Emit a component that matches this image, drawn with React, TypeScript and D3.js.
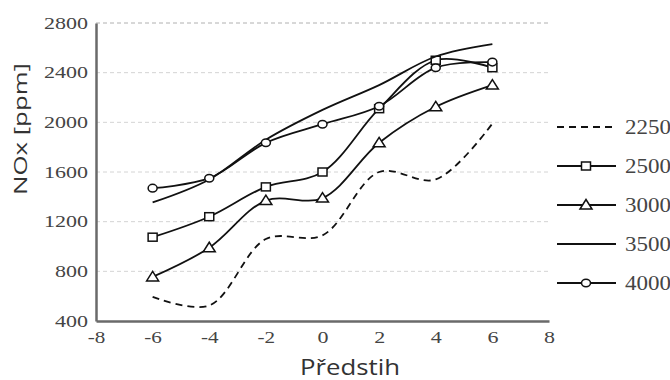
import React from "react"
import * as d3 from "d3"

// x positions (Předstih) shared by all series
const advance = [-6, -4, -2, 0, 2, 4, 6]

// NOx [ppm] per engine speed
const nox2250 = [595, 525, 1060, 1090, 1600, 1540, 1990]
const nox2500 = [1075, 1240, 1480, 1600, 2110, 2500, 2440]
const nox3000 = [755, 990, 1370, 1390, 1835, 2125, 2300]
const nox3500 = [1355, 1540, 1860, 2100, 2300, 2530, 2630]
const nox4000 = [1470, 1550, 1835, 1985, 2130, 2440, 2485]

const xTicks = [-8, -6, -4, -2, 0, 2, 4, 6, 8]
const yTicks = [400, 800, 1200, 1600, 2000, 2400, 2800]

const series = [
  { name: "2250", values: nox2250, dash: "7,5", marker: "none" },
  { name: "2500", values: nox2500, dash: null, marker: "square" },
  { name: "3000", values: nox3000, dash: null, marker: "triangle" },
  { name: "3500", values: nox3500, dash: null, marker: "none" },
  { name: "4000", values: nox4000, dash: null, marker: "circle" },
]

const width = 670
const height = 380
const margin = { top: 23, right: 121, bottom: 59, left: 96 }

const serif = "Liberation Serif, Times New Roman, serif"
const sans = "Open Sans, Noto Sans, sans-serif"

// the reference text is drawn a bit wider than the font's natural width
const labelLength = (s: string, digit: number) =>
  s.split("").reduce((w, c) => w + (c === "-" ? digit * 0.6 : digit), 0)

export default function App() {
  const ref = React.useRef<SVGSVGElement>(null)

  React.useEffect(() => {
    const svg = d3.select(ref.current)
    svg.selectAll("*").remove()

    const x = d3.scaleLinear().domain([-8, 8]).range([margin.left, width - margin.right])
    const y = d3.scaleLinear().domain([400, 2800]).range([height - margin.bottom, margin.top])

    // gridlines
    svg.append("g")
      .selectAll("line")
      .data(yTicks.filter((d) => d > 400))
      .join("line")
      .attr("x1", x(-8))
      .attr("x2", x(8))
      .attr("y1", (d) => y(d))
      .attr("y2", (d) => y(d))
      .attr("stroke", (d) => (d === 2800 ? "#b0b0b0" : "#d4d4d4"))
      .attr("stroke-width", 1)
      .attr("stroke-dasharray", "4,3")

    // axes
    const yAxis = svg.append("g")
      .attr("transform", `translate(${margin.left},0)`)
      .call(d3.axisLeft(y).tickValues(yTicks).tickSize(0).tickPadding(8).tickFormat((d) => String(d)))
    yAxis.attr("font-family", null).attr("font-size", null)
    yAxis.select(".domain").attr("stroke", "#6a6a6a").attr("stroke-width", 2.5)
    yAxis.selectAll("text")
      .style("font-family", serif).style("font-size", "16px").attr("fill", "#444")
      .attr("textLength", (d: any) => labelLength(String(d), 11))
      .attr("lengthAdjust", "spacingAndGlyphs")

    const xAxis = svg.append("g")
      .attr("transform", `translate(0,${height - margin.bottom})`)
      .call(d3.axisBottom(x).tickValues(xTicks).tickSize(0).tickPadding(11).tickFormat((d) => String(d)))
    xAxis.attr("font-family", null).attr("font-size", null)
    xAxis.select(".domain").attr("stroke", "#6a6a6a").attr("stroke-width", 2.5)
    xAxis.selectAll("text")
      .style("font-family", serif).style("font-size", "16px").attr("fill", "#444")
      .attr("textLength", (d: any) => labelLength(String(d), 11))
      .attr("lengthAdjust", "spacingAndGlyphs")

    const line = d3.line<number>()
      .curve(d3.curveCatmullRom.alpha(0.5))
      .x((_, i) => x(advance[i]))
      .y((d) => y(d))

    const drawMarker = (g: any, kind: string, cx: number, cy: number) => {
      if (kind === "square") {
        g.append("rect").attr("x", cx - 4.5).attr("y", cy - 4).attr("width", 9).attr("height", 8)
          .attr("fill", "white").attr("stroke", "#111").attr("stroke-width", 1.5)
      } else if (kind === "triangle") {
        g.append("path").attr("d", `M${cx},${cy - 5.5}L${cx + 6},${cy + 4}L${cx - 6},${cy + 4}Z`)
          .attr("fill", "white").attr("stroke", "#111").attr("stroke-width", 1.5)
      } else if (kind === "circle") {
        g.append("ellipse").attr("cx", cx).attr("cy", cy).attr("rx", 4.5).attr("ry", 3.8)
          .attr("fill", "white").attr("stroke", "#111").attr("stroke-width", 1.5)
      }
    }

    series.forEach((s) => {
      svg.append("path")
        .datum(s.values)
        .attr("fill", "none")
        .attr("stroke", "#111")
        .attr("stroke-width", 1.8)
        .attr("stroke-dasharray", s.dash)
        .attr("d", line)
      const g = svg.append("g")
      s.values.forEach((v, i) => drawMarker(g, s.marker, x(advance[i]), y(v)))
    })

    // legend
    const legend = svg.append("g")
    series.forEach((s, i) => {
      const ly = 127 + i * 39
      legend.append("line")
        .attr("x1", 557).attr("x2", 616).attr("y1", ly).attr("y2", ly)
        .attr("stroke", "#111").attr("stroke-width", 1.8)
        .attr("stroke-dasharray", s.dash)
      drawMarker(legend, s.marker, 586, ly)
      legend.append("text")
        .attr("x", 625).attr("y", ly + 7)
        .style("font-family", serif).style("font-size", "20px").attr("fill", "#444")
        .attr("textLength", 46).attr("lengthAdjust", "spacingAndGlyphs")
        .text(s.name)
    })

    // titles
    svg.append("text")
      .attr("transform", `translate(27,129) rotate(-90)`)
      .attr("text-anchor", "middle")
      .style("font-family", sans).style("font-size", "19px").attr("fill", "#333")
      .attr("textLength", 132).attr("lengthAdjust", "spacingAndGlyphs")
      .text("NOx [ppm]")

    svg.append("text")
      .attr("x", 350).attr("y", 375)
      .attr("text-anchor", "middle")
      .style("font-family", sans).style("font-size", "21px").attr("fill", "#333")
      .attr("textLength", 100).attr("lengthAdjust", "spacingAndGlyphs")
      .text("Předstih")
  }, [])

  return (
    <svg ref={ref} width={width} height={height}
      style={{ position: "absolute", left: 0, top: 0, background: "white" }} />
  )
}
